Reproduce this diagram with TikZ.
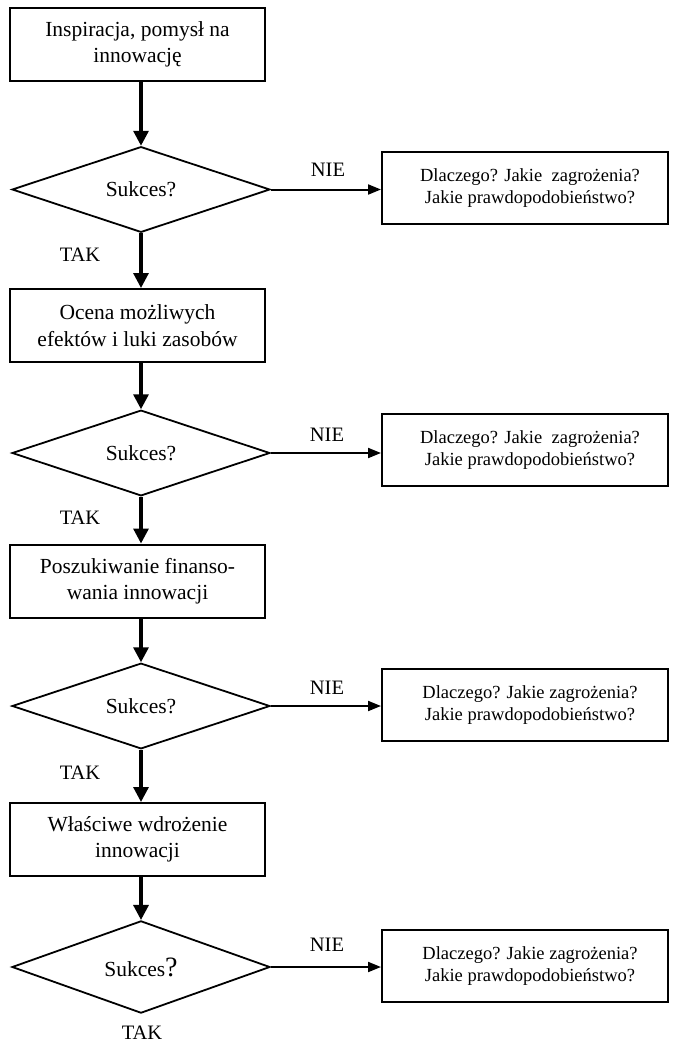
\documentclass[tikz,border=0pt]{standalone}
\usepackage{fontspec}
\setmainfont{Liberation Serif}
\usetikzlibrary{shapes.geometric,arrows.meta}
\begin{document}
\begin{tikzpicture}[x=1pt,y=-1pt,
  mainbox/.style={draw,line width=2pt,minimum width=255pt,minimum height=73pt,inner sep=2pt,align=center,font=\fontsize{21.5}{26.5}\selectfont},
  dia/.style={draw,diamond,line width=1.8pt,minimum width=258pt,minimum height=85pt,inner sep=0pt,font=\fontsize{21.5}{26}\selectfont},
  sidebox/.style={draw,line width=2pt,minimum width=286pt,minimum height=72pt,inner sep=2pt,align=center,font=\fontsize{18.5}{21.5}\selectfont},
  lbl/.style={font=\fontsize{20.5}{24}\selectfont,inner sep=0pt},
  down/.style={line width=3.2pt,-{Triangle[length=15pt,width=15pt]}},
  side/.style={line width=2pt,-{Triangle[length=13pt,width=10pt]}}
]
\useasboundingbox (0,0) rectangle (675,1043);
\node[mainbox] (b1) at (137.5,44.5) {Inspiracja, pomysł na\\innowację};
\node[dia] (d1) at (141,189.5) {Sukces?};
\node[sidebox] (r1) at (525,188) {\hspace{10pt}Dlaczego? Jakie\ \ zagrożenia?\\\hspace{10pt}Jakie prawdopodobieństwo?};
\node[mainbox] (b2) at (137.5,325.5) {Ocena możliwych\\efektów i luki zasobów};
\node[dia] (d2) at (141,453) {Sukces?};
\node[sidebox] (r2) at (525,450) {\hspace{10pt}Dlaczego? Jakie\ \ zagrożenia?\\\hspace{10pt}Jakie prawdopodobieństwo?};
\node[mainbox] (b3) at (137.5,581) {Poszukiwanie finanso-\\wania innowacji};
\node[dia] (d3) at (141,706) {Sukces?};
\node[sidebox] (r3) at (525,705) {\hspace{10pt}Dlaczego? Jakie zagrożenia?\\\hspace{10pt}Jakie prawdopodobieństwo?};
\node[mainbox] (b4) at (137.5,839.5) {Właściwe wdrożenie\\innowacji};
\node[dia] (d4) at (141,967) {Sukces{\fontsize{28}{28}\selectfont ?}};
\node[sidebox] (r4) at (525,966) {\hspace{10pt}Dlaczego? Jakie zagrożenia?\\\hspace{10pt}Jakie prawdopodobieństwo?};

\node[lbl] (n1) at (328,170) {NIE};
\node[lbl] (n2) at (327,435) {NIE};
\node[lbl] (n3) at (327,688) {NIE};
\node[lbl] (n4) at (327,945) {NIE};
\node[lbl] (t1) at (80,255) {TAK};
\node[lbl] (t2) at (80,518) {TAK};
\node[lbl] (t3) at (80,773) {TAK};
\node[lbl] (t4) at (142,1033) {TAK};

\draw[down] (d1.north |- b1.south) -- (d1.north);
\draw[down] (d1.south) -- (d1.south |- b2.north);
\draw[down] (d2.north |- b2.south) -- (d2.north);
\draw[down] (d2.south) -- (d2.south |- b3.north);
\draw[down] (d3.north |- b3.south) -- (d3.north);
\draw[down] (d3.south) -- (d3.south |- b4.north);
\draw[down] (d4.north |- b4.south) -- (d4.north);

\draw[side] (d1.east) -- (d1.east -| r1.west);
\draw[side] (d2.east) -- (d2.east -| r2.west);
\draw[side] (d3.east) -- (d3.east -| r3.west);
\draw[side] (d4.east) -- (d4.east -| r4.west);
\end{tikzpicture}
\end{document}
